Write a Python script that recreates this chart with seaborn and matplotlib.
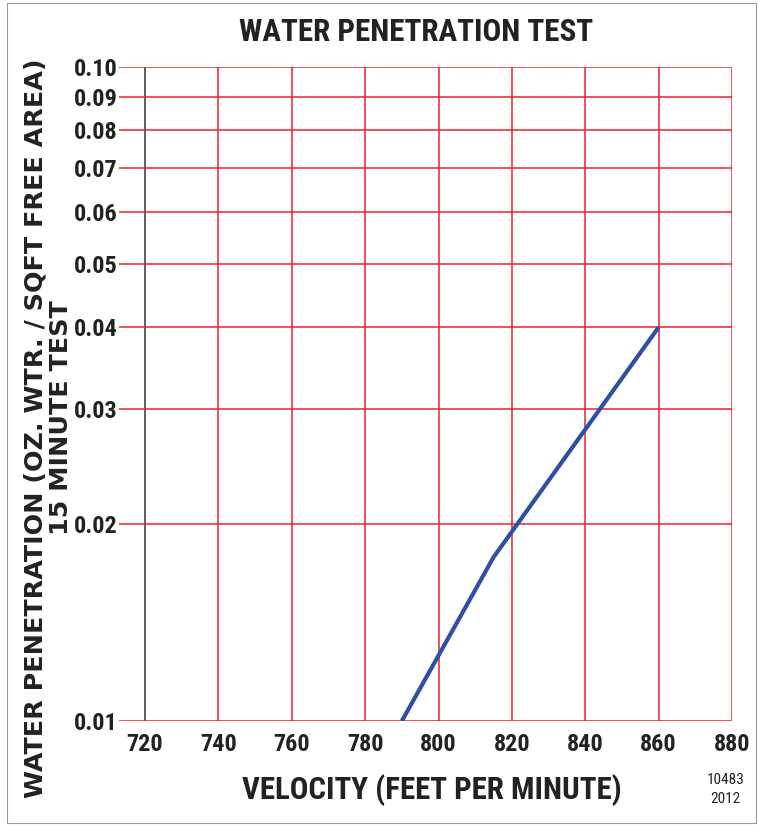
import matplotlib
matplotlib.use("Agg")
import matplotlib.pyplot as plt
import seaborn as sns
import pandas as pd
from matplotlib.patches import Rectangle

velocity = [790, 815, 860]
penetration = [0.010, 0.0178, 0.040]
x_ticks = [720, 740, 760, 780, 800, 820, 840, 860, 880]
y_ticks = [0.01, 0.02, 0.03, 0.04, 0.05, 0.06, 0.07, 0.08, 0.09, 0.10]
y_labels = ["0.01", "0.02", "0.03", "0.04", "0.05", "0.06", "0.07", "0.08", "0.09", "0.10"]

sns.set_theme(style="white")
FONT = ["Roboto Condensed", "DejaVu Sans"]
WIDE = ["DejaVu Sans"]
plt.rcParams["font.family"] = FONT

fig = plt.figure(figsize=(7.58, 8.25), dpi=100)
ax = fig.add_axes([0.157, 0.1261, 0.9657 - 0.157, 0.9188 - 0.1261])

df = pd.DataFrame({"velocity": velocity, "penetration": penetration})
RED = "#e8232d"
ax.set_yscale("log")
ax.set_xlim(712.9, 880)
ax.set_ylim(0.01, 0.10)

for v in x_ticks:
    ax.axvline(v, color=("#333333" if v == 720 else RED), lw=1.1, zorder=1)
for v in y_ticks:
    ax.axhline(v, color=RED, lw=1.1, zorder=1)

sns.lineplot(data=df, x="velocity", y="penetration", ax=ax, color="#2f4fa3",
             lw=3.0, zorder=3, solid_capstyle="butt")

ax.set_xticks(x_ticks)
ax.set_xticklabels([str(t) for t in x_ticks], fontsize=17.5, fontweight="bold", color="#222222")
ax.set_yticks(y_ticks)
ax.set_yticklabels(y_labels, fontsize=17.5, fontweight="bold", color="#222222")
ax.yaxis.set_minor_locator(matplotlib.ticker.NullLocator())
ax.tick_params(axis="both", length=0, pad=1)
ax.tick_params(axis="x", pad=9)
for s in ax.spines.values():
    s.set_visible(False)
ax.set_xlabel("")
ax.set_ylabel("")

fig.text(0.549, 0.961, "WATER PENETRATION TEST", ha="center", va="center",
         fontsize=22.4, fontweight="bold", color="#222222")
fig.text(0.570, 0.042, "VELOCITY (FEET PER MINUTE)", ha="center", va="center",
         fontsize=22.3, fontweight="bold", color="#222222")
fig.text(0.047, 1 - 428 / 825, "WATER PENETRATION (OZ. WTR. / SQFT FREE AREA)", ha="center",
         va="center", rotation=90, fontsize=18.3, fontweight="bold", color="#222222",
         family=WIDE)
fig.text(0.081, 1 - 418 / 825, "15 MINUTE TEST", ha="center", va="center", rotation=90,
         fontsize=18.3, fontweight="bold", color="#222222", family=WIDE)
fig.text(0.957, 0.043, "10483\n2012", ha="center", va="center", fontsize=11,
         color="#222222", linespacing=1.5)

fig.patches.append(Rectangle((0.009, 0.003), 0.989, 0.993, transform=fig.transFigure,
                             fill=False, edgecolor="#999999", lw=0.8))

fig.savefig("out.png", dpi=100)
